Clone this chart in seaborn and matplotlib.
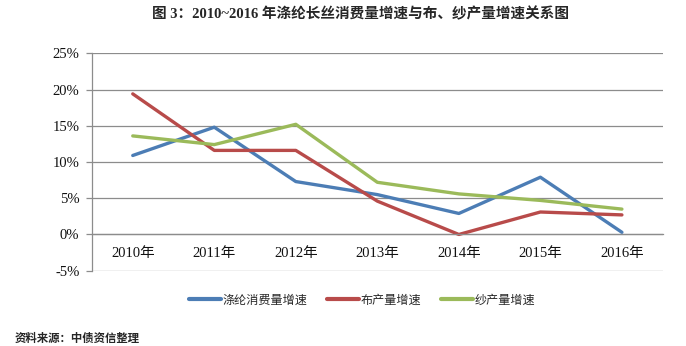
import matplotlib
matplotlib.use("Agg")
import matplotlib.pyplot as plt
import seaborn as sns
import pandas as pd
import numpy as np
from matplotlib.ticker import FixedLocator, PercentFormatter
from matplotlib.lines import Line2D

years = ["2010年", "2011年", "2012年", "2013年", "2014年", "2015年", "2016年"]
polyester = [10.9, 14.8, 7.3, 5.5, 2.9, 7.9, 0.3]
cloth = [19.4, 11.6, 11.6, 4.6, 0.0, 3.1, 2.7]
yarn = [13.6, 12.4, 15.2, 7.2, 5.6, 4.7, 3.5]
series_names = ["涤纶消费量增速", "布产量增速", "纱产量增速"]
yticks = [-5, 0, 5, 10, 15, 20, 25]

sns.set_theme(style="white")
plt.rcParams["font.family"] = ["Liberation Serif", "Noto Sans CJK SC"]
plt.rcParams["axes.unicode_minus"] = False

df = pd.DataFrame({
    "year": years * 3,
    "value": polyester + cloth + yarn,
    "series": [series_names[0]] * 7 + [series_names[1]] * 7 + [series_names[2]] * 7,
})
colors = ["#4C7DB5", "#B84B4A", "#9BBA5A"]

fig = plt.figure(figsize=(6.86, 3.46), dpi=100)
ax = fig.add_axes([0.1341, 0.2176, 0.966 - 0.1341, 0.846 - 0.2176])

sns.lineplot(data=df, x="year", y="value", hue="series", palette=colors,
             linewidth=2.4, ax=ax, legend=False, sort=False)

ax.set_ylim(-5, 25)
ax.set_xlim(-0.5, 6.5)
ax.yaxis.set_major_locator(FixedLocator(yticks))
ax.yaxis.set_major_formatter(PercentFormatter(decimals=0))
ax.grid(axis="y", color="#8c8c8c", linewidth=0.9)
ax.set_axisbelow(True)
for s in ["top", "right"]:
    ax.spines[s].set_visible(False)
ax.spines["left"].set_color("#8c8c8c")
ax.spines["left"].set_linewidth(0.9)
ax.spines["bottom"].set_position(("data", 0))
ax.spines["bottom"].set_color("#8c8c8c")
ax.spines["bottom"].set_linewidth(0.9)

ax.set_xticks(range(7))
ax.set_xticklabels(years)
ax.set_xticks(np.arange(-0.5, 7, 1), minor=True)
ax.tick_params(axis="x", which="major", length=0, pad=9, labelsize=10.5, colors="#111111")
ax.tick_params(axis="x", which="minor", length=4, width=0.9, color="#8c8c8c", direction="out")
ax.tick_params(axis="y", length=4, width=0.9, color="#8c8c8c", direction="out",
               left=True, labelsize=10.5, labelcolor="#111111", pad=5)
ax.set_xlabel("")
ax.set_ylabel("")

handles = [Line2D([0], [0], color=c, linewidth=3) for c in colors]
fig.legend(handles, series_names, loc="center", bbox_to_anchor=(0.528, 0.133),
           ncol=3, frameon=False, handlelength=2.65, handletextpad=0.15,
           columnspacing=1.6, prop={"family": ["Noto Sans CJK SC"], "size": 8.7})

fig.text(0.525, 0.958, "图 3：2010~2016 年涤纶长丝消费量增速与布、纱产量增速关系图",
         ha="center", va="center", fontsize=10.5, fontweight="bold",
         family=["Liberation Serif", "Noto Sans CJK SC"])
fig.text(0.021, 0.023, "资料来源：中债资信整理", ha="left", va="center",
         fontsize=8.2, fontweight="bold", family=["Noto Sans CJK SC"])

fig.savefig("out.png", dpi=100)
